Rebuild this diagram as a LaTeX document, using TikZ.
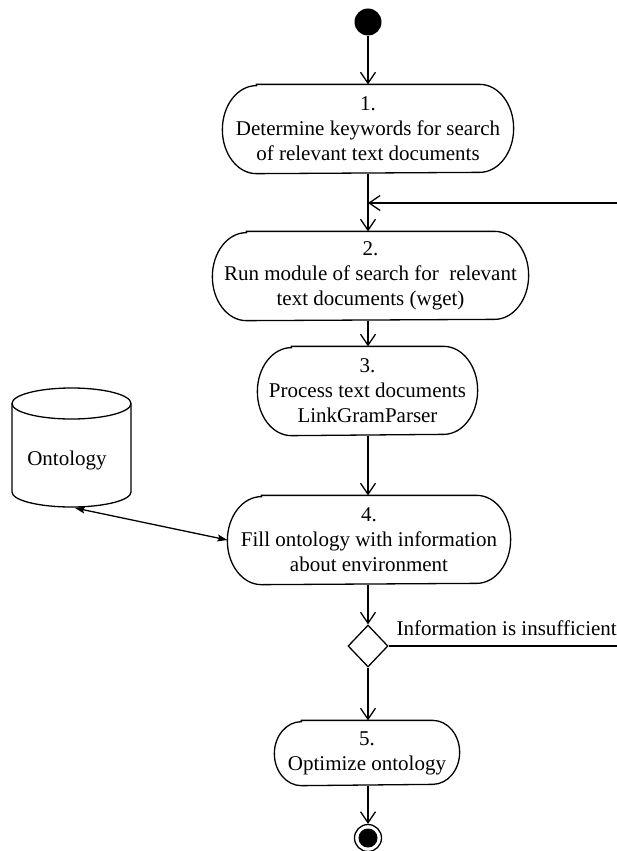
\documentclass[tikz,border=0pt]{standalone}
\usepackage{fontspec}
\setmainfont{Liberation Serif}
\usetikzlibrary{arrows.meta,shapes.geometric}
\newcommand\drawact[3]{%
  \draw ([xshift=#2]#1.north west) -- ([xshift=-#2]#1.north east)
    arc[start angle=90,end angle=-90,x radius=#2,y radius=#3]
    -- ([xshift=#2]#1.south west)
    arc[start angle=270,end angle=90,x radius=#2,y radius=#3] -- cycle;}
\begin{document}
\begin{tikzpicture}[x=1pt,y=-1pt,
  line width=1.3pt,
  >={Straight Barb[length=11pt,width=15pt]},
  every node/.style={font=\fontsize{21}{25}\selectfont},
  act/.style={rectangle,align=center,minimum height=88pt,inner sep=0pt},
  dec/.style={draw,diamond,minimum width=40pt,minimum height=42pt,inner sep=0pt},
  dbl/.style={{Stealth[length=10pt,width=7pt,inset=2pt]}-{Stealth[length=10pt,width=7pt,inset=2pt]}}]
\useasboundingbox (0,0) rectangle (616,851);
% start
\node[circle,fill=black,minimum size=27pt,inner sep=0pt] (start) at (368,22) {};
% activities
\node[act,minimum width=290pt] (n1) at (368,129) {1.\\Determine keywords for search\\of relevant text documents};
\node[act,minimum width=315pt] (n2) at (370.5,276) {2.\\Run module of search for\ \ relevant\\text documents (wget)};
\node[act,minimum width=219pt] (n3) at (367.5,391) {3.\\Process text documents\\LinkGramParser};
\node[act,minimum width=282pt] (n4) at (369,540) {4.\\Fill ontology with information\\about environment};
\node[dec] (dia) at (368,646) {};
\node[act,minimum width=184pt,minimum height=64pt] (n5) at (367,753) {5.\\Optimize ontology};
\drawact{n1}{34pt}{44pt}
\drawact{n2}{34pt}{44pt}
\drawact{n3}{34pt}{44pt}
\drawact{n4}{34pt}{44pt}
\drawact{n5}{27pt}{32pt}
% end
\node[circle,draw,minimum size=27pt,inner sep=0pt] (end) at (368,838) {};
\fill (end.center) circle (9.5pt);
% ontology cylinder
\draw (71.5,403.5) ellipse (59.5pt and 15.5pt);
\draw (12,403.5) -- (12,492) arc[start angle=180,end angle=360,x radius=59.5pt,y radius=15pt] -- (131,403.5);
\node[inner sep=0pt] (ont) at (67,460) {Ontology};
\coordinate (ontb) at (75,508);
% feedback
\coordinate (fbR) at (617,203);
\coordinate (fbL) at (368,203);
\coordinate (dR) at (617,646);
% connectors
\draw[->] (start) -- (n1);
\draw[->] (n1.south -| fbL) -- (n2.north -| fbL);
\draw[->] (fbR) -- (fbL);
\draw[->] (n2.south -| fbL) -- (n3.north -| fbL);
\draw[->] (n3.south -| fbL) -- (n4.north -| fbL);
\draw[->] (n4.south -| dia) -- (dia.north);
\draw (dia.east) -- (dR);
\draw[->] (dia.south) -- (n5.north -| dia);
\draw[->] (n5.south -| end) -- (end.north);
\draw[dbl] (ontb) -- (n4.west);
\node[anchor=base west,inner sep=0pt] (lbl) at (396,635) {Information is insufficient};
\end{tikzpicture}
\end{document}
